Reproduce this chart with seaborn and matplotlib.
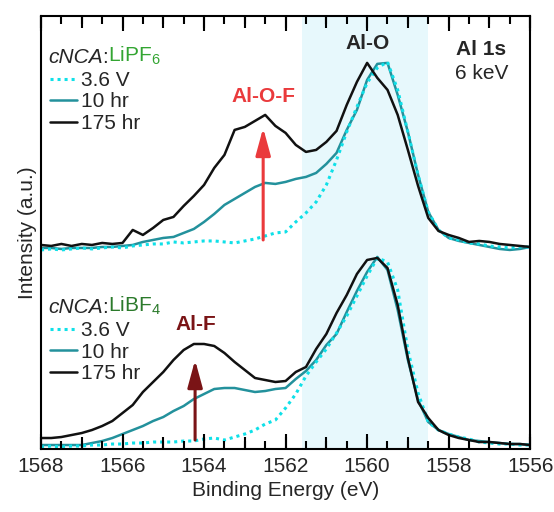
import numpy as np
import pandas as pd
import seaborn as sns
import matplotlib.pyplot as plt
from matplotlib.ticker import MultipleLocator

# binding energy grid (eV), 0.25 eV steps from 1568 down to 1556
energy = np.linspace(1568, 1556, 49)

# LiPF6 electrolyte (upper set), arbitrary intensity units
pf6_36V = [-1, 0, -1, 0, 1, 0, 1, 2, 1, 3,
           4, 5, 5, 7, 6, 7, 8, 8, 7, 6,
           8, 10, 13, 16, 17, 27, 36, 47, 64, 89,
           117, 142, 166, 181, 187, 159, 117, 74, 37, 19,
           11, 9, 6, 5, 3, 2, 1, 2, 2]
pf6_10hr = [1, 1, 0, 1, 1, 1, 2, 2, 3, 4,
            7, 9, 11, 12, 16, 20, 27, 35, 44, 50,
            56, 62, 66, 65, 67, 70, 72, 76, 85, 96,
            119, 139, 169, 185, 186, 154, 117, 74, 37, 19,
            11, 8, 6, 4, 2, 0, -1, 0, 2]
pf6_175hr = [4, 3, 5, 3, 5, 4, 6, 5, 6, 19,
             14, 21, 29, 32, 43, 53, 64, 81, 94, 119,
             122, 128, 134, 123, 116, 104, 97, 99, 107, 118,
             144, 167, 186, 171, 159, 134, 99, 63, 31, 18,
             14, 11, 7, 8, 7, 5, 4, 3, 2]

# LiBF4 electrolyte (lower set)
bf4_36V = [0, 1, 0, 1, 1, 2, 2, 3, 3, 4,
           4, 5, 5, 5, 6, 6, 8, 9, 7, 10,
           13, 17, 23, 27, 39, 53, 71, 85, 98, 114,
           131, 151, 171, 189, 185, 157, 97, 54, 25, 17,
           13, 10, 8, 5, 4, 3, 3, 2, 2]
bf4_10hr = [2, 2, 2, 2, 2, 4, 6, 9, 13, 17,
            21, 26, 30, 36, 41, 48, 53, 58, 59, 59,
            57, 55, 56, 58, 59, 68, 76, 87, 102, 113,
            135, 156, 175, 190, 177, 137, 87, 47, 25, 17,
            13, 10, 7, 6, 5, 4, 3, 3, 2]
bf4_175hr = [9, 9, 10, 12, 14, 17, 21, 26, 34, 42,
             55, 65, 75, 87, 97, 103, 103, 101, 94, 85,
             77, 69, 67, 65, 66, 75, 80, 98, 113, 134,
             152, 173, 187, 189, 179, 142, 89, 45, 29, 17,
             12, 9, 7, 5, 5, 4, 3, 3, 2]

labels = ["3.6 V", "10 hr", "175 hr"]
offset = 198  # vertical stacking of the LiPF6 set

c_dot = "#0fe0e8"
c_teal = "#23919c"
c_black = "#111111"
fs = 15
xlim = (1568, 1556)

sns.set_style("ticks")
plt.rcParams["font.family"] = ["Liberation Sans", "DejaVu Sans"]
plt.rcParams["mathtext.fontset"] = "custom"
plt.rcParams["mathtext.rm"] = "Liberation Sans"

fig, ax = plt.subplots(figsize=(5.54, 5.12), dpi=100)
fig.subplots_adjust(left=0.074, right=0.957, bottom=0.123, top=0.969)

# Al-O region
ax.axvspan(1561.6, 1558.5, color="#e7f8fc", zorder=0, lw=0)

def make_df(vals, shift):
    return pd.DataFrame({"E": energy, "I": np.array(vals, dtype=float) + shift})

for grp, shift in [((pf6_36V, pf6_10hr, pf6_175hr), offset), ((bf4_36V, bf4_10hr, bf4_175hr), 0)]:
    d36, d10, d175 = [make_df(v, shift) for v in grp]
    sns.lineplot(data=d10, x="E", y="I", ax=ax, color=c_teal, lw=1.8, estimator=None, sort=False)
    sns.lineplot(data=d36, x="E", y="I", ax=ax, color=c_dot, lw=2.2, ls=(0, (1, 1.3)),
                 estimator=None, sort=False)
    sns.lineplot(data=d175, x="E", y="I", ax=ax, color=c_black, lw=1.8, estimator=None, sort=False)

lines = ax.get_lines()
top_handles = [lines[1], lines[0], lines[2]]
bot_handles = [lines[4], lines[3], lines[5]]

ax.set_xlim(*xlim)
ax.set_ylim(-2, 431)
ax.set_yticks([])
ax.set_xticks([])
ax.set_xlabel("")
for sp in ax.spines.values():
    sp.set_visible(True)
    sp.set_linewidth(1.5)
    sp.set_color("black")
ax.set_ylabel("Intensity (a.u.)", fontsize=fs, labelpad=3)

# headers
def header(y, salt, green):
    t1 = ax.text(1567.83, y, "cNCA", fontsize=fs, style="italic", va="center", ha="left")
    t2 = ax.annotate(":", xy=(1, 0), xycoords=t1, va="bottom", ha="left", fontsize=fs)
    ax.annotate(salt, xy=(1, 0), xycoords=t2, va="bottom", ha="left", fontsize=fs, color=green)

header(389, "LiPF$_6$", "#33a532")
header(139, "LiBF$_4$", "#2b7a2b")

leg_kw = dict(loc="upper left", frameon=False, fontsize=fs, handlelength=1.3,
              handletextpad=0.2, labelspacing=0.12, borderpad=0, borderaxespad=0)
leg1 = ax.legend(top_handles, labels, bbox_to_anchor=(0.018, 0.873), **leg_kw)
ax.add_artist(leg1)
ax.legend(bot_handles, labels, bbox_to_anchor=(0.018, 0.295), **leg_kw)

# arrows and peak labels
arrow_style = "-|>,head_length=1.1,head_width=0.3"
ax.annotate("", xy=(1562.55, 319), xytext=(1562.55, 207),
            arrowprops=dict(arrowstyle=arrow_style, color="#ea3a3c", lw=2.2, mutation_scale=15,
                            shrinkA=0, shrinkB=0))
ax.text(1562.55, 350, "Al-O-F", color="#ea3a3c", fontsize=fs, fontweight="bold",
        ha="center", va="center")
ax.annotate("", xy=(1564.22, 87), xytext=(1564.22, 7),
            arrowprops=dict(arrowstyle=arrow_style, color="#7a1416", lw=2.2, mutation_scale=15,
                            shrinkA=0, shrinkB=0))
ax.text(1564.2, 122, "Al-F", color="#7a1416", fontsize=fs, fontweight="bold",
        ha="center", va="center")

ax.text(1560.0, 403, "Al-O", fontsize=fs, fontweight="bold", ha="center", va="center")
ax.text(1557.2, 397, "Al 1s", fontsize=fs, fontweight="bold", ha="center", va="center")
ax.text(1557.2, 373, "6 keV", fontsize=fs, ha="center", va="center")

# tick axes overlaid on the plot: 1 eV medium ticks underneath,
# then labelled 2 eV long ticks and 0.5 eV short ticks on top
def tick_axes(major, minor, major_len, minor_len, show_labels):
    tx = fig.add_axes(ax.get_position())
    tx.patch.set_visible(False)
    for sp in tx.spines.values():
        sp.set_visible(False)
    tx.set_xlim(*xlim)
    tx.set_yticks([])
    tx.xaxis.set_major_locator(MultipleLocator(major))
    if minor:
        tx.xaxis.set_minor_locator(MultipleLocator(minor))
    tx.tick_params(axis="x", which="both", direction="in", top=True, bottom=True,
                   width=1.5, color="black", labelsize=fs, pad=6,
                   labelbottom=show_labels, labeltop=False)
    tx.tick_params(axis="x", which="major", length=major_len)
    tx.tick_params(axis="x", which="minor", length=minor_len)
    return tx

tick_axes(1, None, 8.5, 0, False)
tx = tick_axes(2, 0.5, 11, 6, True)
tx.set_xlabel("Binding Energy (eV)", fontsize=fs, labelpad=3)

fig.savefig("out.png", dpi=100)
